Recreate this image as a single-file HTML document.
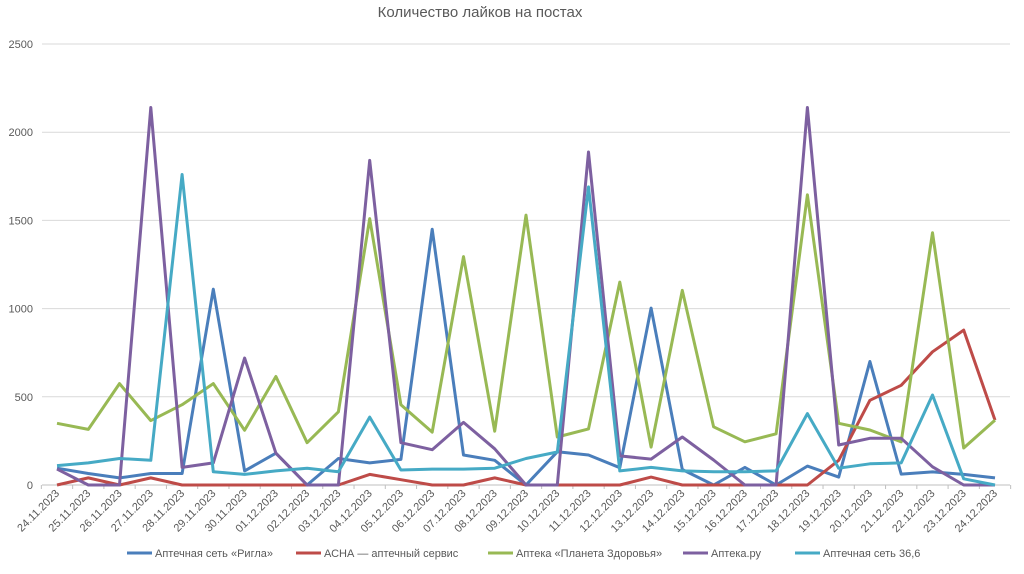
<!DOCTYPE html>
<html><head><meta charset="utf-8">
<style>
html,body{margin:0;padding:0;background:#fff;}
svg{display:block;font-family:"Liberation Sans","DejaVu Sans",sans-serif;}
</style></head>
<body>
<svg id="chart" width="1024" height="574" viewBox="0 0 1024 574" xmlns="http://www.w3.org/2000/svg">
<text x="480" y="17" text-anchor="middle" font-size="15" fill="#595959">Количество лайков на постах</text>
<g id="grid"></g><g id="ylabels"></g><g id="xlabels"></g><g id="lines"></g><g id="legend"></g>
</svg>
<script>
const categories=["24.11.2023","25.11.2023","26.11.2023","27.11.2023","28.11.2023","29.11.2023","30.11.2023","01.12.2023","02.12.2023","03.12.2023","04.12.2023","05.12.2023","06.12.2023","07.12.2023","08.12.2023","09.12.2023","10.12.2023","11.12.2023","12.12.2023","13.12.2023","14.12.2023","15.12.2023","16.12.2023","17.12.2023","18.12.2023","19.12.2023","20.12.2023","21.12.2023","22.12.2023","23.12.2023","24.12.2023"];
const rigla=[95,65,40,65,65,1110,80,180,0,150,125,145,1450,170,140,0,188,170,98,1003,88,0,100,0,107,45,700,62,74,60,40];
const asna=[0,40,0,40,0,0,0,0,0,0,60,30,0,0,40,0,0,0,0,45,0,0,0,0,0,140,480,565,755,878,368];
const planeta=[350,315,575,365,455,575,310,615,240,415,1510,455,300,1295,305,1530,272,318,1150,215,1103,330,245,290,1645,350,312,245,1430,210,368];
const aptekaRu=[90,0,0,2140,100,125,720,180,0,0,1840,240,200,355,205,0,0,1888,165,147,272,142,0,0,2140,227,265,265,103,0,0];
const s366=[110,125,150,140,1760,75,60,80,95,75,385,85,90,90,95,150,187,1690,80,100,80,75,75,80,405,95,120,125,510,35,0];
const seriesNames=["Аптечная сеть «Ригла»","АСНА — аптечный сервис","Аптека «Планета Здоровья»","Аптека.ру","Аптечная сеть 36,6"];
const yTicks=[0,500,1000,1500,2000,2500];

const NS="http://www.w3.org/2000/svg";
const X0=57,X1=995,Y0=485,Ytop=44,YMAX=2500,AX0=42,AX1=1010;
const step=(X1-X0)/(categories.length-1);
function xs(i){return X0+i*step;}
function ys(v){return Y0-(v/YMAX)*(Y0-Ytop);}
function mk(tag,attrs,parent){const e=document.createElementNS(NS,tag);for(const k in attrs)e.setAttribute(k,attrs[k]);parent.appendChild(e);return e;}

const grid=document.getElementById('grid'),yl=document.getElementById('ylabels'),xl=document.getElementById('xlabels'),lines=document.getElementById('lines'),leg=document.getElementById('legend');
yTicks.forEach(t=>{
  const y=ys(t);
  const g=mk('line',{x1:AX0,x2:AX1,y1:y,y2:y,stroke:t===0?'#bfbfbf':'#d9d9d9','stroke-width':1},grid);
  
  
  const tx=mk('text',{x:33,y:y+4,'text-anchor':'end','font-size':11,fill:'#595959'},yl);
  tx.textContent=t;
  
  
});
for(let i=0;i<=categories.length;i++){
  const x=xs(i)-step/2;
  const tk=mk('line',{x1:x,x2:x,y1:Y0,y2:Y0+4,stroke:'#bfbfbf'},grid);
  
  
}
categories.forEach((c,i)=>{
  const x=xs(i)+3,y=Y0+9;
  const t=mk('text',{x:x,y:y,'text-anchor':'end','font-size':11,fill:'#595959',transform:`rotate(-45 ${x} ${y})`},xl);
  t.textContent=c;
  
  
});
const colors=['#4a7ebb','#be4b48','#98b954','#7d60a0','#46aac5'];
const data=[rigla,asna,planeta,aptekaRu,s366];
const ids=['rigla','asna','planeta','apteka-ru','36-6'];
data.forEach((arr,k)=>{
  const pts=arr.map((v,i)=>xs(i).toFixed(1)+','+ys(v).toFixed(1)).join(' ');
  const p=mk('polyline',{points:pts,fill:'none',stroke:colors[k],'stroke-width':3,'stroke-linejoin':'round'},lines);
  
  
});
const legX=[127,296,488,683,795];
seriesNames.forEach((n,k)=>{
  const g=mk('g',{},leg);
  
  
  mk('line',{x1:legX[k],x2:legX[k]+25,y1:553,y2:553,stroke:colors[k],'stroke-width':3},g);
  const t=mk('text',{x:legX[k]+28,y:557,'font-size':11,fill:'#595959'},g);
  t.textContent=n;
});
</script>
</body></html>
